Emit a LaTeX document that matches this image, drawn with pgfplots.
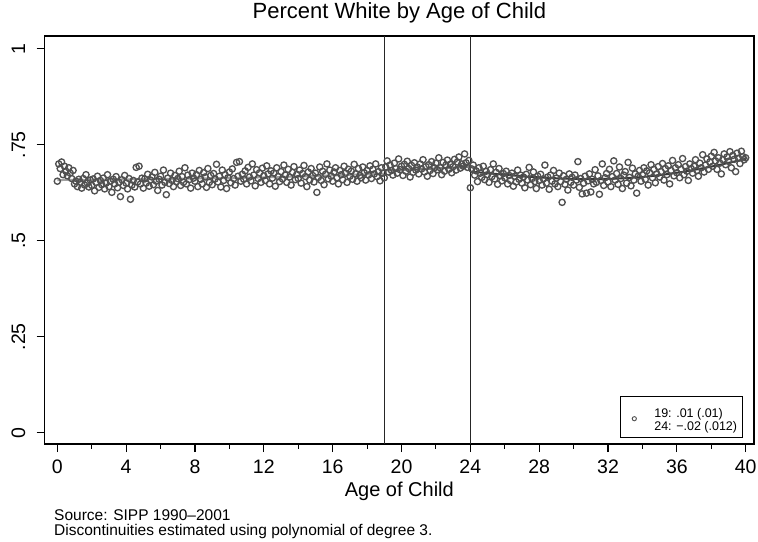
\documentclass[border=0pt]{standalone}
\usepackage{pgfplots}
\pgfplotsset{compat=1.18}
\usepackage{fontspec}
\setmainfont{Liberation Sans}
\definecolor{markgray}{RGB}{80,80,80}
\definecolor{fitA}{RGB}{160,160,160}
\definecolor{fitB}{RGB}{125,125,125}
\definecolor{fitC}{RGB}{55,55,55}
\begin{document}
\begin{tikzpicture}
\useasboundingbox (0,0) rectangle (758bp,542bp);
\begin{axis}[
  at={(44.7bp,98bp)}, anchor=south west,
  scale only axis, width=709.3bp, height=408bp,
  xmin=-8.8, xmax=485.8, ymin=-0.029, ymax=1.033,
  axis line style={line width=1.2bp, black},
  xtick={0,48,...,480}, xticklabels={0,4,8,12,16,20,24,28,32,36,40},
  minor xtick={24,72,...,456},
  ytick={0,0.25,0.5,0.75,1}, yticklabels={0,.25,.5,.75,1},
  tick align=outside, tick pos=left,
  major tick length=8bp, minor tick length=5bp,
  every tick/.style={line width=1.1bp, black},
  xticklabel style={font=\fontsize{19.5bp}{20bp}\selectfont, anchor=base},
  xticklabel shift=21bp,
  yticklabel style={font=\fontsize{19.5bp}{20bp}\selectfont, rotate=90, anchor=base},
  yticklabel shift=11.5bp,
  xlabel={Age of Child},
  xlabel style={font=\fontsize{20bp}{22bp}\selectfont, at={(axis description cs:0.5,0)}, anchor=base, yshift=-52bp},
  title={Percent White by Age of Child},
  title style={font=\fontsize{22bp}{24bp}\selectfont, at={(axis description cs:0.5,1)}, anchor=base, yshift=12bp},
  legend style={at={(axis description cs:1,0)}, anchor=south east, xshift=-11bp, yshift=6bp,
    draw=black, line width=0.8bp, fill=white, font=\fontsize{12.5bp}{14bp}\selectfont,
    inner xsep=3.5bp, inner ysep=9.5bp},
  legend cell align=left,
  legend image code/.code={\path[draw=none, fill=none] (0bp,-10bp) rectangle (28bp,10bp);
    \draw[draw=markgray, line width=0.9bp, fill=none] (10bp,-1.5bp) circle (2.1bp);},
]
\addplot[only marks, mark=o, mark size=3.1bp, draw=markgray, mark options={line width=1.35bp, draw=markgray}] coordinates {
(0,.655)(1,.700)(2,.688)(3,.705)(4,.672)(5,.694)(6,.681)(7,.669)(8,.690)(9,.676)(10,.662)(11,.683)
(12,.648)(13,.655)(14,.641)(15,.660)(16,.652)(17,.637)(18,.662)(19,.645)(20,.672)(21,.650)(22,.640)(23,.658)
(24,.644)(25,.661)(26,.630)(27,.652)(28,.668)(29,.639)(30,.657)(31,.646)(32,.663)(33,.635)(34,.650)(35,.672)
(36,.641)(37,.655)(38,.626)(39,.660)(40,.648)(41,.667)(42,.638)(43,.652)(44,.615)(45,.659)(46,.644)(47,.670)
(48,.650)(49,.635)(50,.662)(51,.608)(52,.645)(53,.657)(54,.640)(55,.691)(56,.653)(57,.694)(58,.648)(59,.663)
(60,.637)(61,.661)(62,.650)(63,.673)(64,.642)(65,.658)(66,.666)(67,.646)(68,.678)(69,.655)(70,.631)(71,.660)
(72,.668)(73,.645)(74,.684)(75,.652)(76,.620)(77,.663)(78,.649)(79,.676)(80,.657)(81,.641)(82,.670)(83,.654)
(84,.662)(85,.681)(86,.644)(87,.667)(88,.652)(89,.690)(90,.648)(91,.671)(92,.659)(93,.637)(94,.676)(95,.663)
(96,.655)(97,.672)(98,.641)(99,.683)(100,.660)(101,.648)(102,.677)(103,.666)(104,.639)(105,.688)(106,.652)(107,.670)
(108,.646)(109,.675)(110,.661)(111,.699)(112,.653)(113,.668)(114,.640)(115,.684)(116,.657)(117,.672)(118,.636)(119,.664)
(120,.679)(121,.651)(122,.687)(123,.662)(124,.645)(125,.704)(126,.668)(127,.706)(128,.655)(129,.673)(130,.660)(131,.682)
(132,.648)(133,.691)(134,.666)(135,.656)(136,.700)(137,.671)(138,.643)(139,.685)(140,.662)(141,.677)(142,.652)(143,.689)
(144,.669)(145,.657)(146,.695)(147,.674)(148,.648)(149,.682)(150,.663)(151,.676)(152,.642)(153,.690)(154,.667)(155,.654)
(156,.680)(157,.661)(158,.697)(159,.671)(160,.652)(161,.686)(162,.666)(163,.645)(164,.678)(165,.693)(166,.659)(167,.673)
(168,.662)(169,.684)(170,.650)(171,.675)(172,.696)(173,.667)(174,.641)(175,.679)(176,.658)(177,.688)(178,.670)(179,.653)
(180,.676)(181,.626)(182,.665)(183,.692)(184,.657)(185,.681)(186,.646)(187,.673)(188,.700)(189,.661)(190,.684)(191,.668)
(192,.655)(193,.679)(194,.690)(195,.664)(196,.648)(197,.683)(198,.672)(199,.659)(200,.694)(201,.676)(202,.652)(203,.686)
(204,.668)(205,.681)(206,.660)(207,.699)(208,.674)(209,.655)(210,.688)(211,.670)(212,.664)(213,.692)(214,.677)(215,.658)
(216,.683)(217,.671)(218,.695)(219,.662)(220,.686)(221,.674)(222,.700)(223,.667)(224,.680)(225,.656)(226,.690)(227,.676)
(228,.664)(229,.692)(230,.708)(231,.679)(232,.697)(233,.683)(234,.671)(235,.702)(236,.688)(237,.676)(238,.713)(239,.685)
(240,.694)(241,.670)(242,.699)(243,.681)(244,.707)(245,.688)(246,.666)(247,.696)(248,.678)(249,.703)(250,.684)(251,.692)
(252,.674)(253,.700)(254,.687)(255,.711)(256,.679)(257,.693)(258,.668)(259,.698)(260,.683)(261,.706)(262,.675)(263,.690)
(264,.702)(265,.685)(266,.716)(267,.690)(268,.672)(269,.704)(270,.681)(271,.697)(272,.710)(273,.686)(274,.699)(275,.677)
(276,.693)(277,.712)(278,.684)(279,.705)(280,.718)(281,.689)(282,.700)(283,.694)(284,.726)(285,.703)(286,.691)(287,.709)
(288,.638)(289,.687)(290,.697)(291,.671)(292,.682)(293,.654)(294,.690)(295,.676)(296,.665)(297,.694)(298,.659)(299,.681)
(300,.672)(301,.652)(302,.685)(303,.667)(304,.700)(305,.661)(306,.678)(307,.647)(308,.688)(309,.669)(310,.656)(311,.675)
(312,.664)(313,.681)(314,.648)(315,.670)(316,.657)(317,.676)(318,.642)(319,.668)(320,.653)(321,.684)(322,.660)(323,.671)
(324,.650)(325,.666)(326,.638)(327,.673)(328,.658)(329,.691)(330,.646)(331,.662)(332,.679)(333,.654)(334,.636)(335,.668)
(336,.657)(337,.673)(338,.645)(339,.661)(340,.697)(341,.650)(342,.666)(343,.634)(344,.671)(345,.655)(346,.683)(347,.648)
(348,.663)(349,.641)(350,.676)(351,.654)(352,.600)(353,.669)(354,.647)(355,.660)(356,.632)(357,.674)(358,.652)(359,.665)
(360,.645)(361,.671)(362,.658)(363,.706)(364,.639)(365,.662)(366,.622)(367,.650)(368,.668)(369,.624)(370,.656)(371,.674)
(372,.627)(373,.660)(374,.648)(375,.685)(376,.652)(377,.669)(378,.621)(379,.657)(380,.700)(381,.644)(382,.664)(383,.675)
(384,.653)(385,.686)(386,.641)(387,.667)(388,.708)(389,.658)(390,.675)(391,.647)(392,.692)(393,.662)(394,.636)(395,.671)
(396,.680)(397,.650)(398,.704)(399,.665)(400,.643)(401,.689)(402,.658)(403,.674)(404,.624)(405,.668)(406,.683)(407,.655)
(408,.672)(409,.690)(410,.660)(411,.682)(412,.645)(413,.677)(414,.698)(415,.664)(416,.686)(417,.651)(418,.674)(419,.693)
(420,.666)(421,.680)(422,.701)(423,.658)(424,.688)(425,.672)(426,.695)(427,.648)(428,.683)(429,.709)(430,.669)(431,.690)
(432,.677)(433,.698)(434,.664)(435,.686)(436,.714)(437,.672)(438,.693)(439,.681)(440,.657)(441,.700)(442,.688)(443,.676)
(444,.694)(445,.711)(446,.683)(447,.668)(448,.702)(449,.690)(450,.724)(451,.679)(452,.697)(453,.713)(454,.686)(455,.705)
(456,.720)(457,.694)(458,.730)(459,.708)(460,.686)(461,.716)(462,.702)(463,.674)(464,.711)(465,.726)(466,.698)(467,.718)
(468,.707)(469,.732)(470,.690)(471,.722)(472,.712)(473,.680)(474,.728)(475,.715)(476,.701)(477,.733)(478,.719)(479,.711)
(480,.716)
};
\addlegendentry{\renewcommand{\arraystretch}{0.95}\begin{tabular}{@{}l@{}}19: .01 (.01)\\24: −.02 (.012)\end{tabular}}
\addplot[fitA, line width=2bp, smooth, forget plot] coordinates {(0,.658)(48,.660)(96,.662)(144,.665)(192,.670)(228,.675)};
\addplot[fitB, line width=2bp, smooth, forget plot] coordinates {(228,.683)(258,.687)(288,.693)};
\addplot[fitC, line width=2bp, smooth, forget plot] coordinates {(288,.680)(312,.672)(336,.665)(360,.661)(384,.661)(408,.666)(432,.677)(456,.693)(480,.713)};
\addplot[black!85, line width=1.3bp, forget plot] coordinates {(228,-0.029)(228,1.033)};
\addplot[black!85, line width=1.3bp, forget plot] coordinates {(288,-0.029)(288,1.033)};
\end{axis}
\node[anchor=base west, font=\fontsize{15.5bp}{16bp}\selectfont, inner sep=0pt] at (54bp,21.5bp) {Source: SIPP 1990–2001};
\node[anchor=base west, font=\fontsize{15.5bp}{16bp}\selectfont, inner sep=0pt] at (54bp,6.5bp) {Discontinuities estimated using polynomial of degree 3.};
\end{tikzpicture}
\end{document}
